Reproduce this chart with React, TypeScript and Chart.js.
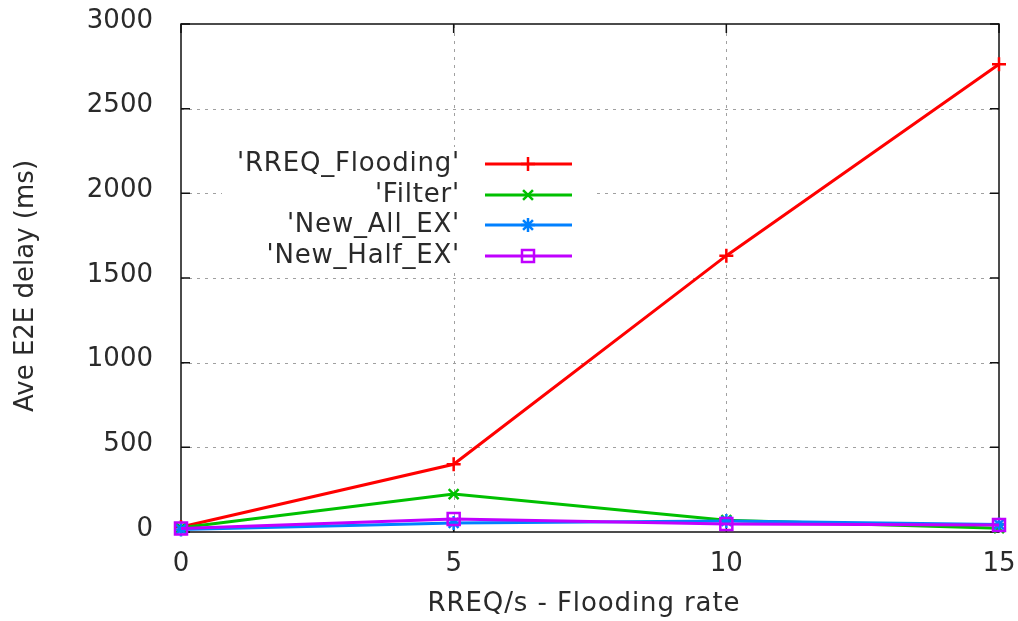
import { useEffect, useRef } from "react";
import { Chart, registerables } from "chart.js";
import { drawPoint } from "chart.js/helpers";

Chart.register(...registerables);

// Flooding rate (RREQ/s) on the x axis
const rates = [0, 5, 10, 15];

// Average end-to-end delay (ms) for each scheme
const rreqFlooding = [30, 400, 1632, 2762];
const filterDelay = [25, 224, 70, 22];
const newAllEx = [15, 53, 65, 45];
const newHalfEx = [20, 77, 47, 41];

const seriesNames = ["'RREQ_Flooding'", "'Filter'", "'New_All_EX'", "'New_Half_EX'"];
const seriesColors = ["#ff0000", "#00c000", "#0080ff", "#c000ff"];
const seriesMarkers = ["cross", "crossRot", "star", "rect"];

const xTickValues = [0, 5, 10, 15];
const yTickValues = [0, 500, 1000, 1500, 2000, 2500, 3000];

const xTitle = "RREQ/s - Flooding rate";
const yTitle = "Ave E2E delay (ms)";

const FONT = "DejaVu Sans";
const TEXT = "#2a2a2a";
const LINE_W = 3;
const MARK_W = 2.5;

const markerRadius = (style: string) => (style === "rect" ? 8.5 : 7);

const fixScale = (s: any, size: { width?: number; height?: number }) => {
  if (size.width !== undefined) s.width = size.width;
  if (size.height !== undefined) s.height = size.height;
  s.paddingTop = 0;
  s.paddingBottom = 0;
  s.paddingLeft = 0;
  s.paddingRight = 0;
};

// key geometry
const keyRowY = [164, 195, 225, 256];
const keyTextRight = 460;
const keyLineStart = 485;
const keyLineEnd = 572;
const keyMarkX = 528;

// gnuplot-like frame: dotted grid, solid border, inward ticks on all sides
const framePlugin = {
  id: "frame",
  beforeDatasetsDraw(chart: any) {
    const { ctx, chartArea } = chart;
    const { left, right, top, bottom } = chartArea;
    const xs = chart.scales.x;
    const ys = chart.scales.y;
    ctx.save();
    ctx.strokeStyle = "#a0a0a0";
    ctx.lineWidth = 1;
    ctx.setLineDash([3, 5]);
    xTickValues.forEach((v) => {
      if (v === xs.min || v === xs.max) return;
      const px = Math.round(xs.getPixelForValue(v)) + 0.5;
      ctx.beginPath();
      ctx.moveTo(px, bottom);
      ctx.lineTo(px, top);
      ctx.stroke();
    });
    yTickValues.forEach((v) => {
      if (v === ys.min || v === ys.max) return;
      const py = Math.round(ys.getPixelForValue(v)) + 0.5;
      ctx.beginPath();
      ctx.moveTo(left, py);
      ctx.lineTo(right, py);
      ctx.stroke();
    });
    ctx.setLineDash([]);

    // opaque key background
    ctx.fillStyle = "#ffffff";
    ctx.fillRect(222, keyRowY[0] - 17, 370, keyRowY[3] - keyRowY[0] + 34);

    ctx.strokeStyle = "#111111";
    ctx.lineWidth = 1.5;
    ctx.strokeRect(left, top, right - left, bottom - top);
    const tl = 9;
    ctx.beginPath();
    xTickValues.forEach((v) => {
      const px = xs.getPixelForValue(v);
      ctx.moveTo(px, bottom);
      ctx.lineTo(px, bottom - tl);
      ctx.moveTo(px, top);
      ctx.lineTo(px, top + tl);
    });
    yTickValues.forEach((v) => {
      const py = ys.getPixelForValue(v);
      ctx.moveTo(left, py);
      ctx.lineTo(left + tl, py);
      ctx.moveTo(right, py);
      ctx.lineTo(right - tl, py);
    });
    ctx.stroke();
    ctx.restore();
  },
  afterDraw(chart: any) {
    const { ctx } = chart;
    ctx.save();
    ctx.fillStyle = TEXT;
    ctx.font = `26px "${FONT}"`;
    ctx.textBaseline = "middle";

    // axis titles
    ctx.textAlign = "center";
    (ctx as any).letterSpacing = "0.9px";
    ctx.fillText(xTitle, 584, 604);
    (ctx as any).letterSpacing = "0px";
    ctx.save();
    ctx.translate(26, 286);
    ctx.rotate(-Math.PI / 2);
    ctx.fillText(yTitle, 0, 0);
    ctx.restore();

    // key: right-aligned labels with line samples to the right
    seriesNames.forEach((name, i) => {
      const y = keyRowY[i];
      ctx.textAlign = "right";
      ctx.fillStyle = TEXT;
      (ctx as any).letterSpacing = "0.8px";
      ctx.fillText(name, keyTextRight, y);
      (ctx as any).letterSpacing = "0px";
      ctx.strokeStyle = seriesColors[i];
      ctx.lineWidth = LINE_W;
      ctx.beginPath();
      ctx.moveTo(keyLineStart, y);
      ctx.lineTo(keyLineEnd, y);
      ctx.stroke();
      ctx.lineWidth = MARK_W;
      ctx.fillStyle = "rgba(0,0,0,0)";
      drawPoint(
        ctx,
        { pointStyle: seriesMarkers[i], radius: markerRadius(seriesMarkers[i]), borderWidth: MARK_W, rotation: 0 } as any,
        keyMarkX,
        y
      );
    });
    ctx.restore();
  },
};

export default function App() {
  const canvasRef = useRef<HTMLCanvasElement | null>(null);

  useEffect(() => {
    const canvas = canvasRef.current;
    if (!canvas) return;
    const seriesData = [rreqFlooding, filterDelay, newAllEx, newHalfEx];
    const chart = new Chart(canvas, {
      type: "line",
      data: {
        datasets: seriesData.map((vals, i) => ({
          label: seriesNames[i],
          data: rates.map((r, j) => ({ x: r, y: vals[j] })),
          borderColor: seriesColors[i],
          backgroundColor: "rgba(0,0,0,0)",
          pointBorderColor: seriesColors[i],
          pointBackgroundColor: "rgba(0,0,0,0)",
          borderWidth: LINE_W,
          pointBorderWidth: MARK_W,
          pointStyle: seriesMarkers[i] as any,
          pointRadius: markerRadius(seriesMarkers[i]),
          tension: 0,
          fill: false,
          clip: false as any,
          order: 3 - i,
        })),
      },
      options: {
        responsive: false,
        animation: false,
        devicePixelRatio: 1,
        layout: { padding: { left: 0, top: 24, right: 19, bottom: 0 } },
        plugins: {
          legend: { display: false },
          tooltip: { enabled: false },
          title: { display: false },
        },
        events: [],
        scales: {
          x: {
            type: "linear",
            min: 0,
            max: 15,
            afterFit: (s: any) => fixScale(s, { height: 89 }),
            afterBuildTicks: (s: any) => {
              s.ticks = xTickValues.map((v) => ({ value: v }));
            },
            grid: { display: false, drawTicks: false },
            border: { display: false },
            ticks: {
              padding: 17,
              color: TEXT,
              font: { family: FONT, size: 26 },
              maxRotation: 0,
              callback: (v: any) => String(v),
            },
          },
          y: {
            type: "linear",
            min: 0,
            max: 3000,
            afterFit: (s: any) => fixScale(s, { width: 181 }),
            afterBuildTicks: (s: any) => {
              s.ticks = yTickValues.map((v) => ({ value: v }));
            },
            grid: { display: false, drawTicks: false },
            border: { display: false },
            ticks: {
              padding: 28,
              labelOffset: -3,
              color: TEXT,
              font: { family: FONT, size: 26 },
              callback: (v: any) => String(v),
            },
          },
        },
      },
      plugins: [framePlugin],
    });
    return () => chart.destroy();
  }, []);

  return (
    <div style={{ position: "fixed", left: 0, top: 0, width: 1018, height: 621, background: "#ffffff" }}>
      <canvas ref={canvasRef} width={1018} height={621} style={{ display: "block" }} />
    </div>
  );
}
